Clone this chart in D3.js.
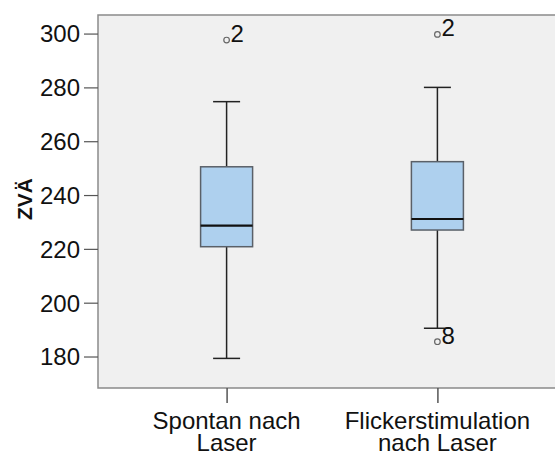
<!DOCTYPE html>
<html>
<head>
<meta charset="utf-8">
<script src="https://cdn.jsdelivr.net/npm/d3@7"></script>
<style>
  html, body { margin: 0; padding: 0; background: #fff; }
  svg { display: block; font-family: "Liberation Sans", Arial, sans-serif; }
</style>
</head>
<body>
<svg id="chart" width="555" height="452"></svg>
<script>
// Box plot summary per group
const categories   = ["Spontan nach Laser", "Flickerstimulation nach Laser"];
const labelLines   = [["Spontan nach", "Laser"], ["Flickerstimulation", "nach Laser"]];
const whiskerLow   = [179.3, 190.5];
const q1           = [220.8, 227.0];
const median       = [228.6, 231.1];
const q3           = [250.5, 252.4];
const whiskerHigh  = [274.7, 280.0];
const outlierGroup = [0, 1, 1];
const outlierValue = [297.6, 299.7, 185.5];
const outlierLabel = ["2", "2", "8"];
const yTicks       = [180, 200, 220, 240, 260, 280, 300];
const yTitle       = "ZVÄ";

const svg = d3.select("#chart");
const plot = { left: 98, top: 15, right: 566, bottom: 388 };

const y = d3.scaleLinear().domain([168.3, 306.9]).range([plot.bottom, plot.top]);
const x = d3.scalePoint().domain(categories).range([plot.left, plot.right]).padding(0.61);

// Panel background and frame
svg.append("rect")
  .attr("x", plot.left).attr("y", plot.top)
  .attr("width", plot.right - plot.left).attr("height", plot.bottom - plot.top)
  .attr("fill", "#f0f0f0").attr("stroke", "#8a8a8a").attr("stroke-width", 1.5);

// Y axis
const yAxis = svg.append("g")
  .attr("transform", `translate(${plot.left},0)`)
  .call(d3.axisLeft(y).tickValues(yTicks).tickSize(14).tickPadding(4).tickFormat(d3.format("d")));
yAxis.select(".domain").remove();
yAxis.selectAll(".tick line").attr("stroke", "#555").attr("stroke-width", 1.2);
yAxis.selectAll(".tick text")
  .attr("fill", "#111").attr("font-size", 24).attr("font-family", "Liberation Sans, Arial, sans-serif")
  .attr("dy", "0.35em");

// X axis
const xAxis = svg.append("g")
  .attr("transform", `translate(0,${plot.bottom})`)
  .call(d3.axisBottom(x).tickSize(15).tickFormat(""));
xAxis.select(".domain").remove();
xAxis.selectAll(".tick line").attr("stroke", "#555").attr("stroke-width", 1.5);

categories.forEach((c, i) => {
  const t = svg.append("text")
    .attr("x", x(c)).attr("y", 429)
    .attr("text-anchor", "middle").attr("font-size", 24).attr("fill", "#111");
  labelLines[i].forEach((line, k) => {
    t.append("tspan").attr("x", x(c)).attr("dy", k === 0 ? 0 : 21.5).text(line);
  });
});

// Y axis title
svg.append("text")
  .attr("transform", `translate(32,199) rotate(-90)`)
  .attr("text-anchor", "middle")
  .attr("font-size", 21).attr("font-weight", "bold").attr("fill", "#111")
  .text(yTitle);

// Boxes
const boxW = 52, capW = 27;
const g = svg.append("g");
categories.forEach((c, i) => {
  const cx = x(c);
  // whiskers
  g.append("line").attr("x1", cx).attr("x2", cx).attr("y1", y(q3[i])).attr("y2", y(whiskerHigh[i]))
    .attr("stroke", "#222").attr("stroke-width", 1.5);
  g.append("line").attr("x1", cx).attr("x2", cx).attr("y1", y(q1[i])).attr("y2", y(whiskerLow[i]))
    .attr("stroke", "#222").attr("stroke-width", 1.5);
  [whiskerHigh[i], whiskerLow[i]].forEach(v => {
    g.append("line").attr("x1", cx - capW / 2).attr("x2", cx + capW / 2)
      .attr("y1", y(v)).attr("y2", y(v)).attr("stroke", "#222").attr("stroke-width", 1.5);
  });
  // box
  g.append("rect")
    .attr("x", cx - boxW / 2).attr("y", y(q3[i]))
    .attr("width", boxW).attr("height", y(q1[i]) - y(q3[i]))
    .attr("fill", "#aed0ee").attr("stroke", "#5a6068").attr("stroke-width", 1.5);
  // median
  g.append("line").attr("x1", cx - boxW / 2).attr("x2", cx + boxW / 2)
    .attr("y1", y(median[i])).attr("y2", y(median[i]))
    .attr("stroke", "#111").attr("stroke-width", 2.2);
});

// Outliers with case labels
outlierValue.forEach((v, j) => {
  const cx = x(categories[outlierGroup[j]]);
  const cy = y(v);
  g.append("circle").attr("cx", cx).attr("cy", cy).attr("r", 2.8)
    .attr("fill", "#f0f0f0").attr("stroke", "#666").attr("stroke-width", 1.2);
  g.append("text").attr("x", cx + 4).attr("y", cy + 2)
    .attr("font-size", 24).attr("fill", "#111").text(outlierLabel[j]);
});
</script>
</body>
</html>
